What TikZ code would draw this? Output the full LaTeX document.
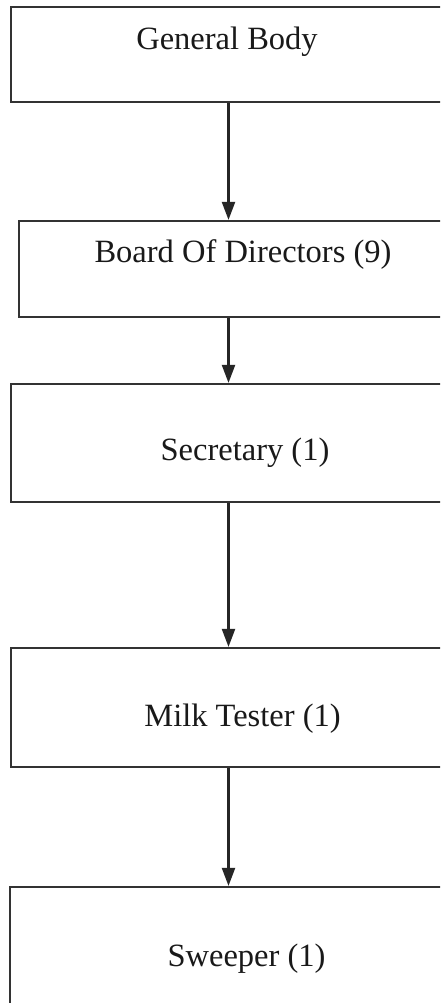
\documentclass[tikz,border=0pt]{standalone}
\usepackage{fontspec}
\setmainfont{Liberation Serif}
\usetikzlibrary{arrows.meta}
\begin{document}
\begin{tikzpicture}[x=1pt,y=-1pt,
  box/.style={draw=black!80, line width=2.2pt, rectangle, inner sep=0pt,
    font=\fontsize{32.5}{38}\selectfont, text=black!90},
  arr/.style={draw=black!85, line width=2.2pt, -{Triangle[length=18pt,width=13pt]}}]
\useasboundingbox (0,0) rectangle (440,1003);
\clip (0,0) rectangle (440,1003);
\fill[white] (0,0) rectangle (440,1003);
\coordinate (spine) at (228.5,0);
\node[box, minimum width=432, minimum height=95, text height=22pt, text depth=31pt] (gb) at (227,54.5) {General Body};
\node[box, minimum width=448, minimum height=96, text height=22pt, text depth=34.6pt] (bod) at (243,269) {Board Of Directors (9)};
\node[box, minimum width=468, minimum height=118, text height=42pt, text depth=6.6pt] (sec) at (245,443) {Secretary (1)};
\node[box, minimum width=463, minimum height=119, text height=45pt, text depth=6.6pt] (mt) at (242.5,707.5) {Milk Tester (1)};
\node[box, minimum width=473, minimum height=143, text height=24pt, text depth=7.6pt] (sw) at (246.5,958.5) {Sweeper (1)};
\draw[arr] (gb.south -| spine) -- (bod.north -| spine);
\draw[arr] (bod.south -| spine) -- (sec.north -| spine);
\draw[arr] (sec.south -| spine) -- (mt.north -| spine);
\draw[arr] (mt.south -| spine) -- (sw.north -| spine);
\end{tikzpicture}
\end{document}
